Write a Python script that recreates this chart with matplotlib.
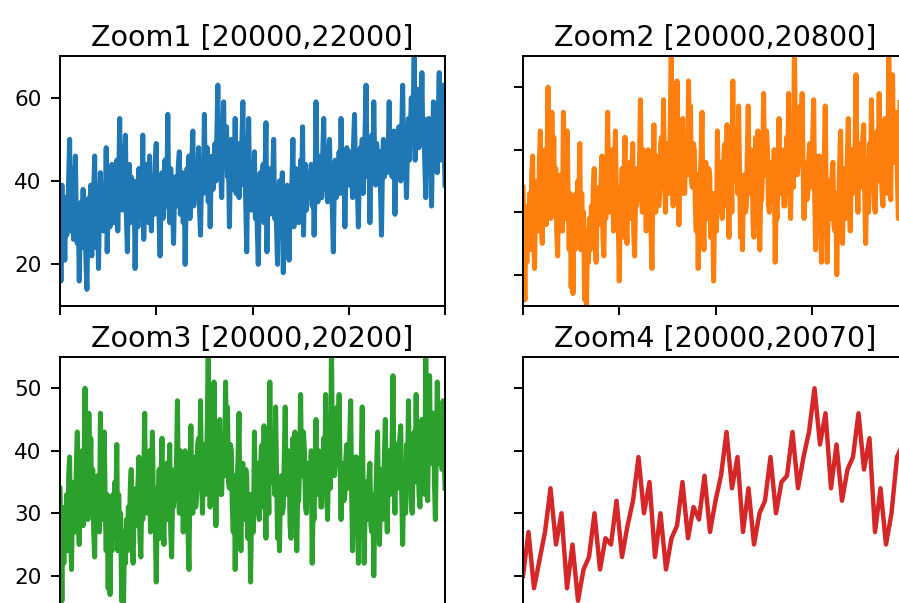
import matplotlib
matplotlib.use("Agg")
import matplotlib.pyplot as plt
import numpy as np

# Zoom windows: (title, start, end)
windows = [
    ("Zoom1", 20000, 22000),
    ("Zoom2", 20000, 20800),
    ("Zoom3", 20000, 20200),
    ("Zoom4", 20000, 20070),
]
colors = ["#1f77b4", "#ff7f0e", "#2ca02c", "#d62728"]

# sampled values inside each window
zoom1_vals = [
    30, 16, 39, 24, 33, 21, 36, 27, 31, 40, 50, 28, 35, 43, 26, 38, 46, 30, 25, 34,
    16, 29, 35, 24, 38, 27, 33, 20, 14, 30, 36, 26, 39, 22, 32, 37, 46, 29, 24, 35,
    19, 33, 42, 30, 36, 28, 39, 31, 48, 23, 34, 40, 29, 38, 44, 32, 30, 41, 36, 45,
    28, 39, 55, 35, 42, 33, 38, 45, 51, 31, 23, 37, 44, 30, 41, 35, 33, 40, 19, 32,
    36, 29, 43, 34, 40, 31, 51, 26, 37, 44, 33, 39, 30, 46, 35, 28, 41, 37, 32, 45,
    49, 33, 38, 30, 22, 36, 42, 31, 40, 45, 34, 38, 56, 35, 30, 43, 39, 33, 25, 37,
    41, 34, 38, 44, 47, 32, 36, 42, 30, 39, 20, 35, 43, 37, 46, 31, 40, 45, 52, 34,
    38, 44, 36, 41, 48, 33, 27, 40, 45, 37, 56, 39, 42, 48, 35, 44, 29, 41, 46, 38,
    43, 49, 40, 52, 63, 45, 50, 42, 36, 47, 59, 44, 48, 53, 41, 46, 29, 43, 50, 38,
    45, 40, 55, 37, 43, 49, 36, 44, 41, 50, 59, 39, 46, 34, 23, 42, 55, 36, 44, 33,
    39, 35, 47, 31, 40, 28, 20, 37, 42, 33, 38, 44, 30, 41, 54, 23, 36, 43, 32, 39,
    34, 41, 50, 31, 37, 28, 20, 35, 40, 29, 36, 42, 18, 33, 38, 27, 39, 31, 21, 36,
    32, 40, 50, 29, 37, 43, 34, 41, 30, 38, 45, 35, 53, 27, 39, 44, 33, 42, 36, 40,
    37, 44, 34, 41, 27, 38, 59, 40, 35, 46, 39, 43, 36, 47, 55, 38, 42, 48, 35, 44,
    50, 38, 42, 33, 23, 40, 45, 36, 43, 39, 47, 37, 55, 41, 38, 46, 29, 42, 48, 40,
    44, 39, 47, 42, 36, 49, 56, 40, 45, 38, 29, 43, 48, 41, 50, 37, 44, 52, 63, 45,
    41, 48, 30, 45, 51, 42, 59, 44, 39, 49, 46, 40, 47, 38, 27, 43, 50, 41, 45, 48,
    42, 47, 59, 44, 50, 41, 46, 52, 32, 45, 49, 43, 53, 47, 40, 51, 63, 46, 50, 44,
    36, 48, 55, 45, 52, 60, 49, 57, 71, 45, 58, 51, 62, 48, 56, 53, 66, 49, 55, 44,
    36, 50, 46, 55, 43, 52, 34, 48, 59, 47, 53, 44, 42, 56, 66, 50, 45, 58, 63, 52, 39,
]

# Zoom2 and Zoom3 carry the same sample sequence
zoom23_vals = [
    34, 27, 16, 30, 22, 31, 25, 33, 24, 36, 39, 26, 21, 33, 28, 35, 27, 38, 43, 29,
    25, 36, 30, 40, 28, 38, 50, 33, 41, 29, 46, 35, 42, 30, 37, 27, 23, 34, 29, 36,
    31, 27, 46, 33, 38, 29, 43, 31, 24, 33, 18, 28, 17, 30, 24, 33, 26, 35, 30, 41,
    24, 33, 27, 30, 16, 26, 15, 27, 22, 29, 24, 31, 26, 34, 37, 25, 22, 32, 28, 34,
    28, 35, 39, 26, 23, 33, 29, 36, 46, 31, 30, 38, 33, 40, 27, 36, 43, 32, 34, 28,
    19, 30, 31, 37, 26, 36, 42, 29, 25, 35, 30, 38, 29, 36, 41, 27, 23, 33, 31, 37,
    32, 38, 48, 34, 30, 40, 33, 38, 27, 36, 40, 31, 33, 27, 21, 35, 44, 32, 30, 37,
    39, 31, 33, 41, 42, 34, 48, 36, 30, 39, 41, 33, 36, 44, 57, 38, 31, 42, 44, 35,
    51, 40, 28, 37, 37, 44, 45, 33, 33, 42, 41, 36, 51, 40, 47, 35, 34, 41, 40, 31,
    27, 36, 21, 32, 35, 39, 46, 30, 24, 35, 38, 29, 30, 37, 36, 26, 28, 33, 19, 30,
    33, 27, 43, 31, 30, 38, 38, 29, 34, 40, 41, 31, 44, 33, 26, 36, 37, 30, 51, 36,
    35, 42, 40, 33, 47, 36, 26, 34, 24, 33, 36, 30, 31, 39, 47, 34, 33, 40, 39, 28,
    26, 35, 42, 32, 43, 30, 24, 33, 32, 38, 49, 36, 36, 43, 40, 31, 30, 37, 38, 32,
    33, 40, 22, 31, 29, 37, 45, 33, 34, 40, 39, 31, 31, 37, 42, 35, 49, 36, 29, 38,
    40, 34, 57, 42, 44, 36, 38, 45, 47, 38, 49, 37, 29, 38, 37, 32, 33, 39, 41, 34,
    36, 42, 48, 33, 24, 34, 33, 39, 39, 30, 22, 31, 31, 38, 47, 33, 22, 30, 35, 29,
    30, 36, 38, 28, 27, 33, 20, 29, 32, 38, 43, 31, 25, 34, 37, 29, 33, 39, 45, 32,
    27, 36, 40, 33, 35, 41, 52, 36, 30, 39, 41, 34, 38, 42, 44, 33, 25, 34, 36, 30,
    41, 34, 48, 38, 36, 31, 30, 40, 43, 35, 49, 38, 39, 33, 31, 41, 45, 36, 40, 33,
    57, 39, 32, 44, 52, 38, 40, 46, 46, 35, 29, 40, 51, 39, 38, 44, 44, 37, 48, 40, 34,
]

zoom4_vals = [
    20, 27, 18, 22.5, 27, 34, 25, 30, 18, 25,
    16, 21, 23, 30, 21, 26, 25, 32, 23, 28,
    32, 39, 30, 35, 23, 30, 21, 26, 28, 35,
    26, 31, 29, 36, 27, 32, 36, 43, 34, 39,
    27, 34, 25, 30, 32, 39, 30, 35, 36, 43,
    34, 39, 43, 50, 41, 46, 34, 41, 32, 37,
    39, 46, 37, 42, 27, 34, 25, 30, 39, 41, 35,
]

series = [zoom1_vals, zoom23_vals, zoom23_vals, zoom4_vals]
ylims = [(10, 70), (15, 55), (15, 55), (15, 55)]
yticks = [[20, 40, 60], [20, 30, 40, 50], [20, 30, 40, 50], [20, 30, 40, 50]]
xstep = [500, 200, 50, 10]
widths = [3.6, 3.6, 3.6, 3.2]

plt.rcParams.update({
    "xtick.major.size": 6.7,
    "ytick.major.size": 6.7,
    "xtick.major.width": 1.4,
    "ytick.major.width": 1.4,
    "xtick.major.pad": 6.5,
    "ytick.major.pad": 6.5,
    "xtick.labelsize": 15.5,
    "ytick.labelsize": 15.5,
    "axes.linewidth": 1.4,
})

fig = plt.figure(figsize=(8.99, 6.03), dpi=100)
W, H = 899, 603
# axes boxes in pixels: left, top
boxes = [(60, 56), (523, 56), (60, 357), (523, 357)]
aw, ah = 385, 250

for k, (title, start, end) in enumerate(windows):
    left, top = boxes[k]
    ax = fig.add_axes([left / W, (H - top - ah) / H, aw / W, ah / H])
    vals = series[k]
    x = np.linspace(start, end, len(vals))
    ax.plot(x, vals, color=colors[k], linewidth=widths[k])
    ax.set_xlim(start, end)
    ax.set_ylim(*ylims[k])
    ax.set_yticks(yticks[k])
    ax.set_xticks(np.arange(start, end + 1, xstep[k]))
    ax.set_title(f"{title} [{start},{end}]", fontsize=20.5, pad=7)
    ax.tick_params(labelbottom=False, labelleft=(k % 2 == 0))

fig.savefig("out.png", dpi=100)
